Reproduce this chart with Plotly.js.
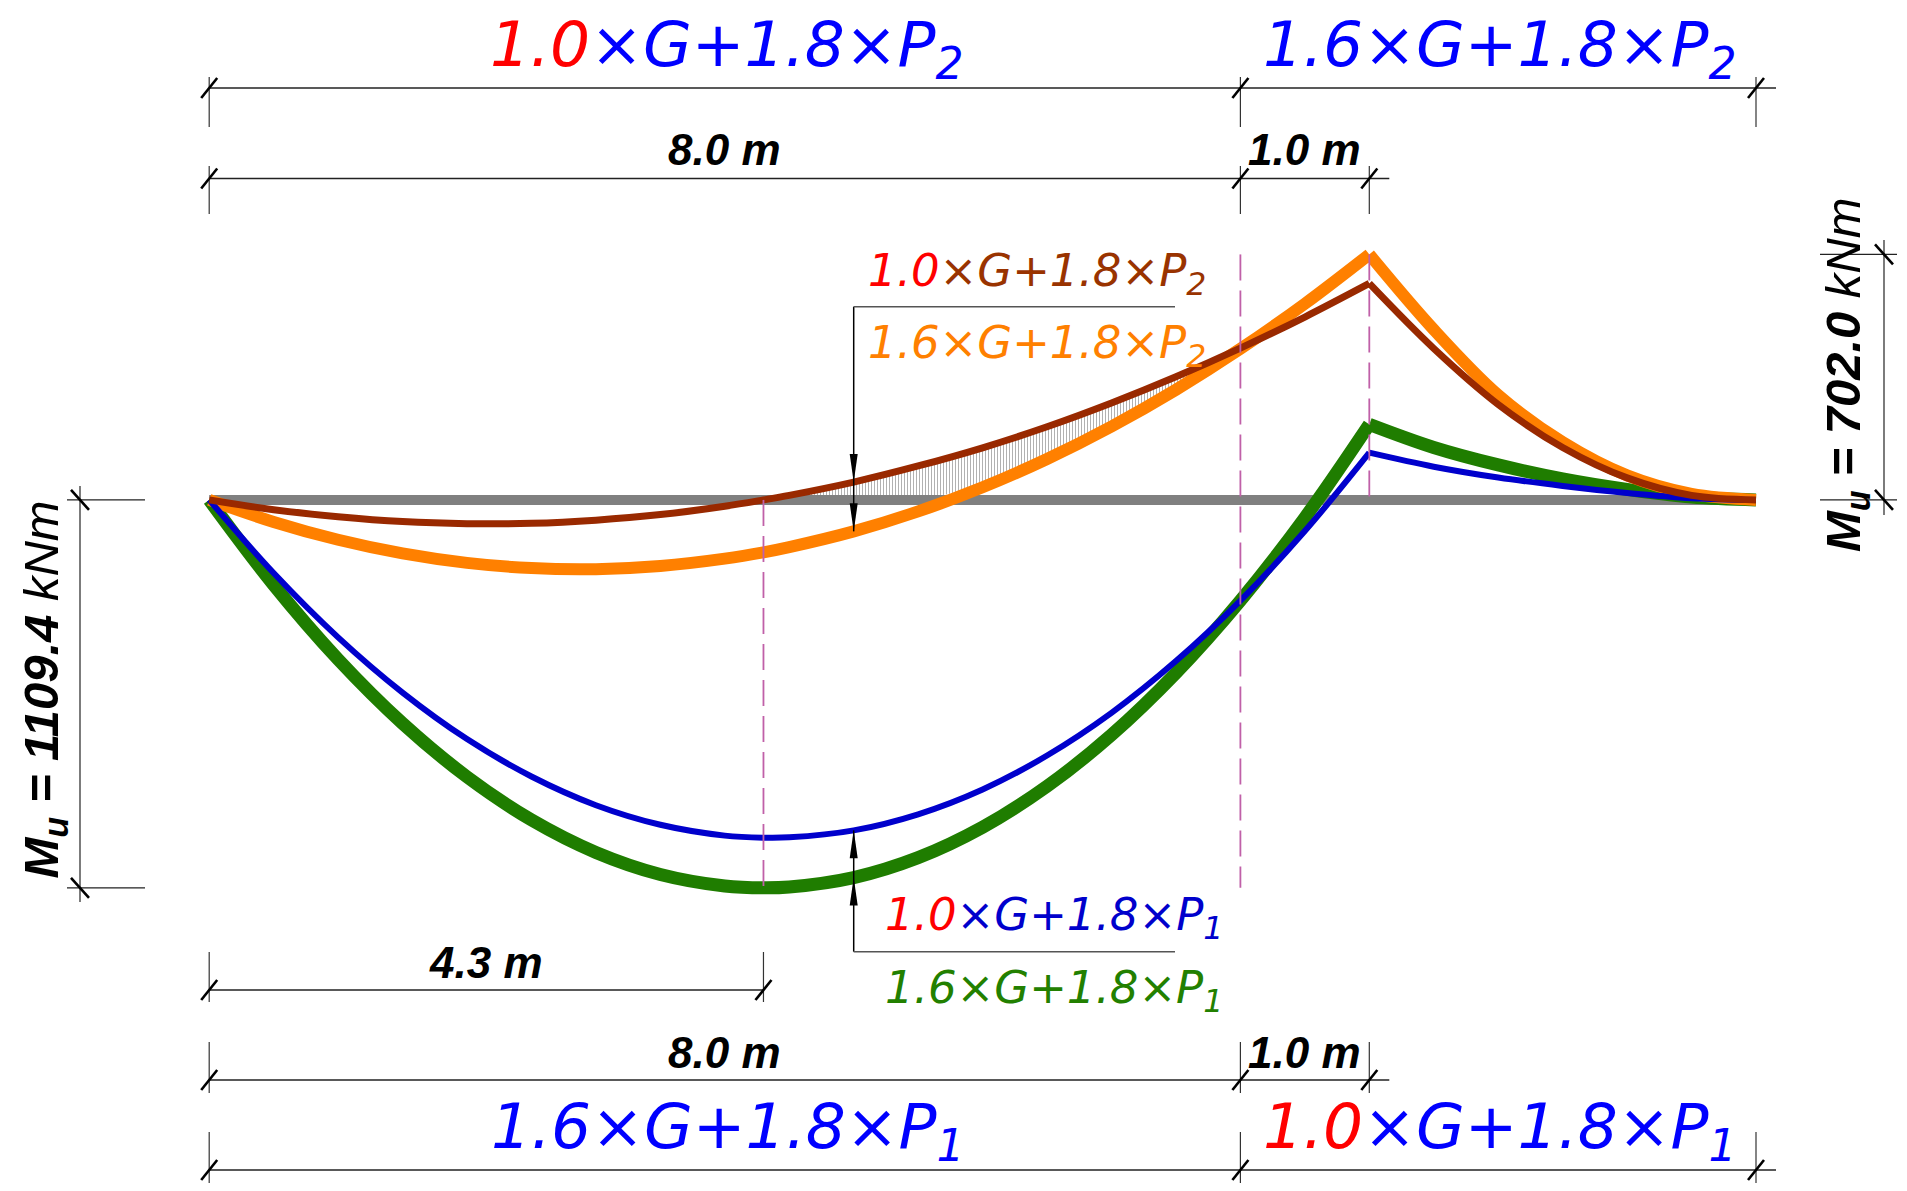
<!DOCTYPE html>
<html>
<head>
<meta charset="utf-8">
<script src="https://cdn.plot.ly/plotly-3.0.1.min.js"></script>
<style>
  html, body { margin: 0; padding: 0; background: #ffffff; }
  #chart { width: 1907px; height: 1191px; }
</style>
</head>
<body>
<div id="chart"></div>
<script>
// stations along the beam (m)
var xPos = [0, 0.5, 1, 1.5, 2, 2.5, 3, 3.5, 4, 4.3, 4.5, 5, 5.5, 6, 6.5, 7, 7.5, 8, 8.5, 9, 9.5, 10, 10.5, 11, 11.5, 12];

// bending moments (kNm), sagging positive = drawn downwards
var mGreen  = [0, 243, 456, 639, 792, 915, 1008, 1071, 1104, 1109.4, 1107, 1080, 1023, 936, 819, 672, 495, 288, 51, -216, -150, -100, -60, -30, -8, 0];   // 1.6G+1.8P1
var mBlue   = [0, 209, 393, 551, 684, 791, 873, 929, 960, 966, 965, 945, 899, 828, 731, 609, 461, 288, 89, -135, -95, -64, -40, -20, -5, 0];          // 1.0G+1.8P1
var mOrange = [0, 63, 114, 153, 180, 195, 198, 189, 168, 150, 135, 90, 33, -36, -117, -210, -315, -432, -561, -702, -487, -300, -165, -70, -17, 0];    // 1.6G+1.8P2
var mBrown  = [0, 28, 48, 62, 68, 67, 58, 42, 18, 0, -13, -51, -97, -149, -209, -277, -352, -434, -523, -619, -433, -273, -150, -63, -13, 0];          // 1.0G+1.8P2

// dimensions and extreme values
var spanLengths = [8.0, 1.0];
var maxSagAt = 4.3;
var muValues = [1109.4, 702.0];

// ---- page geometry (px) ----
var W = 1907, H = 1191;
var X0 = 209.2, KX = 128.9;   // px at x = 0, px per m
var Y0 = 499.9, KY = 0.3497;  // px at M = 0, px per kNm
function X(m) { return X0 + KX * m; }
function Y(M) { return Y0 + KY * M; }
function fx(p) { return p / W; }
function fy(p) { return 1 - p / H; }

var RED = '#ff0000';
var comboFont = 'DejaVu Sans, Noto Sans, sans-serif';
var dimFont = 'Liberation Sans, Arial, sans-serif';

// label like 1.0xG+1.8xP2, first factor may be red
function combo(g, idx, gColor) {
  var first = gColor ? '<span style="color:' + gColor + '">' + g + '</span>' : g;
  return first + '×G+1.8×P<sub>' + idx + '</sub>';
}

function line(x0, y0, x1, y1, color, width, dash) {
  return {type: 'line', xref: 'paper', yref: 'paper', layer: 'above',
    x0: fx(x0), y0: fy(y0), x1: fx(x1), y1: fy(y1),
    line: {color: color, width: width, dash: dash || 'solid'}};
}

// arrow head, tip at (tx, ty); dir 1 points down, -1 points up
function arrowHead(tx, ty, dir) {
  var L = 28, hw = 4, by = ty - dir * L;
  return {type: 'path', xref: 'paper', yref: 'paper', layer: 'above',
    path: 'M' + fx(tx) + ',' + fy(ty) + ' L' + fx(tx - hw) + ',' + fy(by) + ' L' + fx(tx + hw) + ',' + fy(by) + ' Z',
    fillcolor: '#000000', line: {width: 0}};
}

// horizontal dimension row
function dimRow(y, stops, e0, e1, over) {
  var s = [line(X(stops[0]), y, X(stops[stops.length - 1]) + over, y, '#222222', 1.6)];
  stops.forEach(function (m) {
    s.push(line(X(m), e0, X(m), e1, '#333333', 1.2));
    s.push(line(X(m) - 8, y + 10, X(m) + 8, y - 10, '#000000', 2.6));
  });
  return s;
}

// vertical dimension column
function dimCol(x, yA, yB, l0, l1, ext0, ext1) {
  var s = [line(x, l0, x, l1, '#444444', 1.4)];
  [yA, yB].forEach(function (y) {
    s.push(line(ext0, y, ext1, y, '#222222', 1.4));
    s.push(line(x - 9, y - 10, x + 9, y + 10, '#000000', 2.6));
  });
  return s;
}

function note(text, px, py, size, color, family, extra) {
  var a = {xref: 'paper', yref: 'paper', x: fx(px), y: fy(py), text: text, showarrow: false,
    xanchor: 'center', yanchor: 'middle',
    font: {family: family, size: size, color: color, style: 'italic'}};
  return Object.assign(a, extra || {});
}

// ---- traces ----
// span part and overhang part are drawn separately so the kink at the support stays sharp
var iSup = xPos.indexOf(spanLengths[0] + spanLengths[1]);
function curve(vals, color, width) {
  var parts = [[0, iSup + 1], [iSup, xPos.length]];
  return parts.map(function (p) {
    return {x: xPos.slice(p[0], p[1]), y: vals.slice(p[0], p[1]), type: 'scatter', mode: 'lines',
      hoverinfo: 'skip', line: {color: color, width: width, shape: 'spline', smoothing: 1}};
  });
}

// hatched band where 1.0G+1.8P2 governs the hogging
var hatchBase = mOrange.map(function (v) { return Math.min(v, 0); });
var hatchTop = mBrown.map(function (v, i) { return Math.min(v, hatchBase[i]); });

var traces = [
  {x: xPos, y: hatchBase, type: 'scatter', mode: 'lines', hoverinfo: 'skip', line: {width: 0, color: 'rgba(0,0,0,0)'}},
  {x: xPos, y: hatchTop, type: 'scatter', mode: 'lines', hoverinfo: 'skip', line: {width: 0, color: 'rgba(0,0,0,0)'},
    fill: 'tonexty', fillcolor: 'rgba(0,0,0,0)',
    fillpattern: {shape: '|', fgcolor: '#b0b0b0', bgcolor: 'rgba(0,0,0,0)', size: 3, solidity: 0.33}},
  {x: [xPos[0], xPos[xPos.length - 1]], y: [0, 0], type: 'scatter', mode: 'lines', hoverinfo: 'skip',
    line: {color: '#808080', width: 10}}
]
  .concat(curve(mGreen, '#1f7d00', 13))
  .concat(curve(mOrange, '#ff8000', 12))
  .concat(curve(mBlue, '#0000cc', 6))
  .concat(curve(mBrown, '#992900', 7));

// ---- shapes ----
var dash = '26px,10px';
var dashCol = '#c060a8';
var L = spanLengths[0], C = spanLengths[0] + spanLengths[1];
var shapes = [
  line(X(maxSagAt), Y(0), X(maxSagAt), Y(muValues[0]), dashCol, 1.8, dash),
  line(X(L), Y(-muValues[1]), X(L), Y(muValues[0]), dashCol, 1.8, dash),
  line(X(C), Y(-muValues[1]), X(C), Y(0), dashCol, 1.8, dash)
];
shapes = shapes
  .concat(dimRow(88, [0, L, 12], 77, 127, 20))
  .concat(dimRow(178.5, [0, L, C], 166, 214, 20))
  .concat(dimRow(990, [0, maxSagAt], 952, 1002, 0))
  .concat(dimRow(1080, [0, L, C], 1042, 1093, 20))
  .concat(dimRow(1170, [0, L, 12], 1132, 1183, 20))
  .concat(dimCol(80, Y(0), Y(muValues[0]), 486, 902, 67, 145))
  .concat(dimCol(1884, Y(-muValues[1]), Y(0), 240, 515, 1820, 1897));

// leaders to the load case curves at x = 5 m
var xl = X(5);
var iL = xPos.indexOf(5);
shapes.push(line(xl, 306.7, xl, Y(mOrange[iL]), '#000000', 1.5));
shapes.push(line(xl, 306.7, 1175, 306.7, '#555555', 1.5));
shapes.push(arrowHead(xl, Y(mBrown[iL]), 1));
shapes.push(arrowHead(xl, Y(mOrange[iL]), 1));
shapes.push(line(xl, Y(mBlue[iL]), xl, 951.7, '#000000', 1.5));
shapes.push(line(xl, 951.7, 1175, 951.7, '#555555', 1.5));
shapes.push(arrowHead(xl, Y(mBlue[iL]), -1));
shapes.push(arrowHead(xl, Y(mGreen[iL]), -1));

// ---- annotations ----
function dimText(v) { return '<b>' + v.toFixed(1) + ' m</b>'; }
function muText(v) { return '<b>M<sub>u</sub> = ' + v.toFixed(1) + '</b> kNm'; }

var annotations = [
  note(combo('1.0', 2, RED), 726.5, 48, 63, '#0000ff', comboFont),
  note(combo('1.6', 2), 1500, 48, 63, '#0000ff', comboFont),
  note(combo('1.6', 1), 728, 1130, 63, '#0000ff', comboFont),
  note(combo('1.0', 1, RED), 1500, 1130, 63, '#0000ff', comboFont),
  note(combo('1.0', 2, RED), 1037, 273, 45, '#993300', comboFont),
  note(combo('1.6', 2), 1037, 345, 45, '#ff8000', comboFont),
  note(combo('1.0', 1, RED), 1054, 917, 45, '#0000cc', comboFont),
  note(combo('1.6', 1), 1054, 990, 45, '#228000', comboFont),
  note(dimText(spanLengths[0]), (X(0) + X(L)) / 2, 150, 44, '#000000', dimFont),
  note(dimText(spanLengths[1]), (X(L) + X(C)) / 2, 150, 44, '#000000', dimFont),
  note(dimText(maxSagAt), (X(0) + X(maxSagAt)) / 2, 962, 44, '#000000', dimFont),
  note(dimText(spanLengths[0]), (X(0) + X(L)) / 2, 1052, 44, '#000000', dimFont),
  note(dimText(spanLengths[1]), (X(L) + X(C)) / 2, 1052, 44, '#000000', dimFont),
  note(muText(muValues[0]), 43.5, 690, 49, '#000000', dimFont, {textangle: -90}),
  note(muText(muValues[1]), 1846, 375, 49, '#000000', dimFont, {textangle: -90})
];

var layout = {
  width: W, height: H,
  margin: {l: 0, r: 0, t: 0, b: 0, pad: 0},
  paper_bgcolor: '#ffffff', plot_bgcolor: '#ffffff',
  showlegend: false, hovermode: false,
  xaxis: {range: [-X0 / KX, (W - X0) / KX], visible: false, fixedrange: true},
  yaxis: {range: [(H - Y0) / KY, -Y0 / KY], visible: false, fixedrange: true},
  shapes: shapes,
  annotations: annotations
};

Plotly.newPlot('chart', traces, layout, {staticPlot: true, displayModeBar: false});
</script>
</body>
</html>
